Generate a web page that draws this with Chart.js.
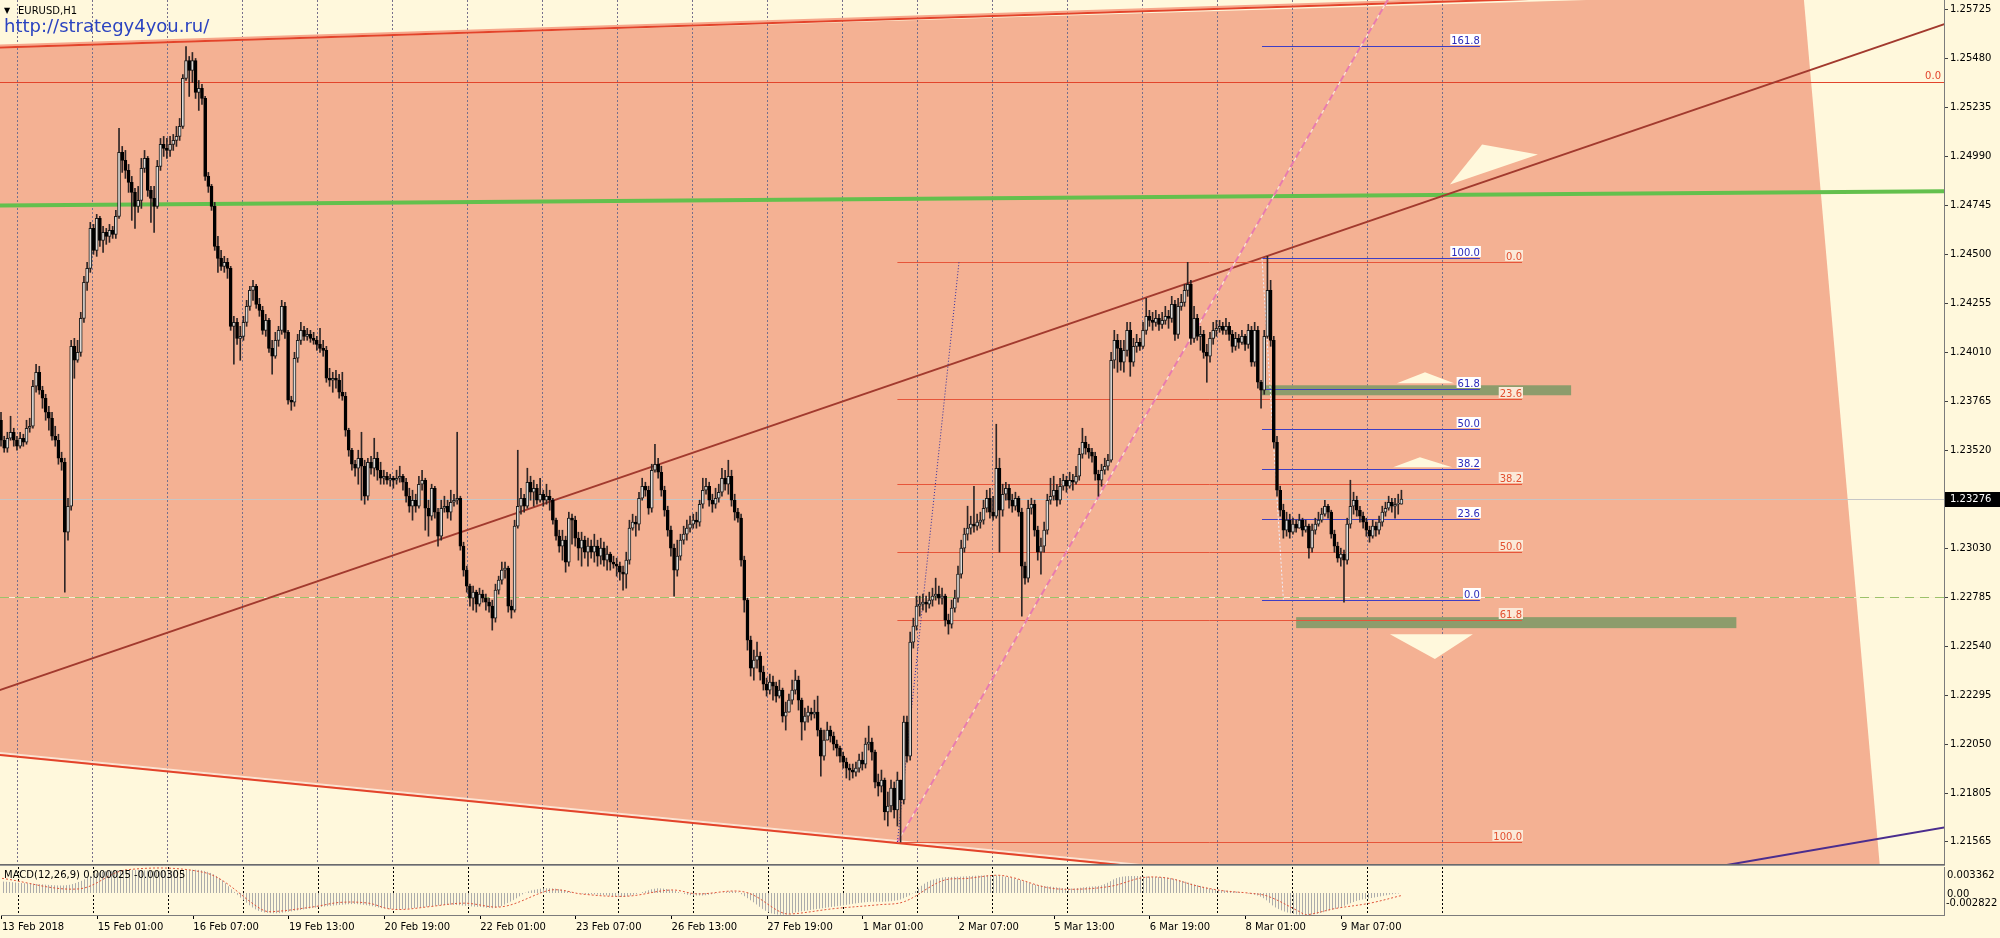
<!DOCTYPE html>
<html><head><meta charset="utf-8"><title>EURUSD,H1</title>
<script src="https://cdn.jsdelivr.net/npm/chart.js@4.4.1/dist/chart.umd.min.js"></script>
<style>
html,body{margin:0;padding:0;background:#FFF8DC;overflow:hidden;width:2000px;height:938px}
#wrap{position:relative;width:2000px;height:938px;background:#FFF8DC}
canvas{position:absolute;left:0;display:block}
#c1{top:0}#c2{top:866px}
</style></head><body>
<div id="wrap"><canvas id="c1" width="2000" height="866"></canvas><canvas id="c2" width="2000" height="72"></canvas></div>
<script>
// ---------------- DATA (EURUSD H1, bar index 0 = first visible candle) ----------------
const symbolTitle = "EURUSD,H1";
const siteUrl = "http://strategy4you.ru/";
const firstOpen = 1.2367;
const closes = [1.2357,1.2353,1.2358,1.2361,1.2357,1.2354,1.2358,1.2356,1.2363,1.2364,
1.2384,1.2391,1.2382,1.2378,1.2371,1.2368,1.2359,1.2357,1.2348,1.2346,
1.2311,1.2324,1.2404,1.2397,1.2401,1.2418,1.2436,1.2443,1.2463,1.2452,
1.2468,1.2457,1.2461,1.2459,1.2462,1.2460,1.2469,1.2501,1.2497,1.2492,
1.2486,1.2481,1.2474,1.2477,1.2493,1.2498,1.2482,1.2478,1.2474,1.2494,
1.2505,1.2503,1.2502,1.2505,1.2507,1.2509,1.2514,1.2538,1.2547,1.2542,
1.2547,1.2531,1.2533,1.2528,1.2489,1.2484,1.2474,1.2454,1.2448,1.2444,
1.2446,1.2443,1.2414,1.2416,1.2408,1.2409,1.2416,1.2424,1.2432,1.2434,
1.2425,1.2422,1.2412,1.2417,1.2403,1.2399,1.2407,1.2412,1.2424,1.2411,
1.2377,1.2376,1.2398,1.2407,1.2412,1.2409,1.2410,1.2408,1.2407,1.2405,
1.2403,1.2402,1.2388,1.2387,1.2388,1.2387,1.2381,1.2379,1.2362,1.2352,
1.2345,1.2343,1.2348,1.2344,1.2329,1.2346,1.2343,1.2348,1.2342,1.2338,
1.2339,1.2337,1.2338,1.2337,1.2338,1.2339,1.2336,1.2329,1.2324,1.2327,
1.2324,1.2335,1.2337,1.2323,1.2319,1.2333,1.2321,1.2309,1.2323,1.2324,
1.2321,1.2326,1.2327,1.2328,1.2304,1.2292,1.2284,1.2278,1.2281,1.2275,
1.2280,1.2278,1.2276,1.2274,1.2268,1.2282,1.2287,1.2292,1.2293,1.2274,
1.2272,1.2314,1.2324,1.2328,1.2324,1.2336,1.2331,1.2333,1.2327,1.2330,
1.2327,1.2329,1.2327,1.2317,1.2309,1.2304,1.2307,1.2296,1.2318,1.2317,
1.2308,1.2303,1.2307,1.2301,1.2304,1.2301,1.2304,1.2299,1.2303,1.2297,
1.2300,1.2296,1.2295,1.2294,1.2291,1.2290,1.2297,1.2313,1.2316,1.2315,
1.2328,1.2334,1.2332,1.2323,1.2342,1.2345,1.2341,1.2332,1.2322,1.2312,
1.2303,1.2292,1.2299,1.2307,1.2310,1.2313,1.2315,1.2317,1.2316,1.2325,
1.2332,1.2334,1.2327,1.2325,1.2328,1.2331,1.2338,1.2335,1.2339,1.2327,
1.2321,1.2318,1.2297,1.2277,1.2257,1.2243,1.2247,1.2249,1.2241,1.2235,
1.2232,1.2236,1.2234,1.2229,1.2232,1.2219,1.2221,1.2227,1.2232,1.2237,
1.2227,1.2216,1.2219,1.2221,1.2220,1.2221,1.2212,1.2199,1.2207,1.2212,
1.2209,1.2205,1.2203,1.2199,1.2196,1.2193,1.2192,1.2191,1.2193,1.2197,
1.2195,1.2205,1.2206,1.2201,1.2186,1.2184,1.2187,1.2171,1.2174,1.2183,
1.2172,1.2187,1.2177,1.2216,1.2199,1.2256,1.2264,1.2274,1.2275,1.2276,
1.2275,1.2277,1.2279,1.2280,1.2278,1.2279,1.2267,1.2265,1.2273,1.2278,
1.2290,1.2303,1.2310,1.2313,1.2315,1.2314,1.2316,1.2317,1.2323,1.2328,
1.2321,1.2319,1.2343,1.2322,1.2330,1.2333,1.2327,1.2324,1.2328,1.2321,
1.2294,1.2288,1.2323,1.2325,1.2312,1.2301,1.2304,1.2312,1.2327,1.2329,
1.2332,1.2327,1.2334,1.2337,1.2334,1.2337,1.2336,1.2339,1.2350,1.2356,
1.2353,1.2351,1.2349,1.2340,1.2337,1.2342,1.2344,1.2347,1.2397,1.2407,
1.2403,1.2396,1.2402,1.2412,1.2396,1.2404,1.2406,1.2404,1.2412,1.2419,
1.2417,1.2416,1.2418,1.2415,1.2417,1.2419,1.2418,1.2425,1.2410,1.2424,
1.2426,1.2432,1.2435,1.2408,1.2418,1.2409,1.2410,1.2401,1.2399,1.2408,
1.2412,1.2413,1.2414,1.2412,1.2414,1.2410,1.2404,1.2408,1.2406,1.2409,
1.2405,1.2412,1.2396,1.2412,1.2386,1.2382,1.2409,1.2432,1.2407,1.2356,
1.2332,1.2322,1.2312,1.2317,1.2311,1.2315,1.2313,1.2317,1.2312,1.2314,
1.2303,1.2312,1.2315,1.2317,1.2320,1.2324,1.2321,1.2310,1.2304,1.2298,
1.2300,1.2297,1.2315,1.2324,1.2327,1.2322,1.2319,1.2316,1.2312,1.2309,
1.2314,1.2312,1.2316,1.2321,1.2323,1.2326,1.2324,1.2325,1.2325,1.23276];
const highs = [1.2371,1.2359,1.2361,1.2369,1.2363,1.2359,1.2361,1.2360,1.2367,1.2368,
1.2387,1.2395,1.2394,1.2384,1.2380,1.2374,1.2371,1.2364,1.2360,1.2351,
1.2348,1.2328,1.2407,1.2408,1.2407,1.2421,1.2439,1.2446,1.2466,1.2465,
1.2470,1.2469,1.2464,1.2463,1.2465,1.2464,1.2472,1.2513,1.2504,1.2502,
1.2495,1.2489,1.2483,1.2484,1.2498,1.2502,1.2499,1.2484,1.2484,1.2497,
1.2508,1.2509,1.2508,1.2509,1.2510,1.2514,1.2518,1.2540,1.2554,1.2549,
1.2551,1.2548,1.2537,1.2535,1.2529,1.2491,1.2485,1.2476,1.2459,1.2452,
1.2449,1.2448,1.2444,1.2419,1.2418,1.2414,1.2419,1.2427,1.2434,1.2437,
1.2435,1.2428,1.2424,1.2420,1.2418,1.2407,1.2411,1.2414,1.2427,1.2426,
1.2412,1.2379,1.2401,1.2410,1.2416,1.2414,1.2413,1.2412,1.2411,1.2409,
1.2413,1.2407,1.2404,1.2393,1.2391,1.2392,1.2390,1.2391,1.2381,1.2363,
1.2353,1.2347,1.2352,1.2361,1.2347,1.2348,1.2349,1.2358,1.2351,1.2346,
1.2342,1.2341,1.2340,1.2339,1.2342,1.2344,1.2340,1.2338,1.2333,1.2332,
1.2330,1.2339,1.2342,1.2338,1.2327,1.2335,1.2334,1.2323,1.2327,1.2329,
1.2327,1.2332,1.2330,1.2361,1.2329,1.2306,1.2294,1.2285,1.2284,1.2282,
1.2283,1.2282,1.2280,1.2278,1.2277,1.2285,1.2289,1.2296,1.2296,1.2294,
1.2277,1.2317,1.2352,1.2333,1.2330,1.2343,1.2339,1.2337,1.2335,1.2338,
1.2332,1.2335,1.2332,1.2328,1.2318,1.2312,1.2312,1.2309,1.2321,1.2320,
1.2319,1.2311,1.2311,1.2309,1.2308,1.2307,1.2310,1.2307,1.2308,1.2306,
1.2304,1.2301,1.2299,1.2298,1.2296,1.2294,1.2301,1.2317,1.2320,1.2319,
1.2331,1.2338,1.2336,1.2334,1.2345,1.2355,1.2348,1.2344,1.2334,1.2324,
1.2314,1.2305,1.2307,1.2310,1.2314,1.2317,1.2319,1.2320,1.2321,1.2327,
1.2338,1.2338,1.2336,1.2330,1.2333,1.2335,1.2343,1.2342,1.2347,1.2342,
1.2330,1.2323,1.2320,1.2299,1.2278,1.2259,1.2252,1.2256,1.2251,1.2244,
1.2238,1.2240,1.2239,1.2236,1.2237,1.2233,1.2226,1.2230,1.2237,1.2242,
1.2239,1.2228,1.2223,1.2224,1.2223,1.2227,1.2229,1.2213,1.2212,1.2216,
1.2214,1.2211,1.2207,1.2204,1.2201,1.2198,1.2195,1.2195,1.2196,1.2200,
1.2201,1.2208,1.2214,1.2208,1.2202,1.2190,1.2192,1.2188,1.2181,1.2187,
1.2186,1.2191,1.2182,1.2219,1.2219,1.2261,1.2268,1.2279,1.2279,1.2280,
1.2279,1.2281,1.2283,1.2288,1.2284,1.2283,1.2280,1.2270,1.2277,1.2282,
1.2294,1.2307,1.2313,1.2324,1.2319,1.2334,1.2320,1.2321,1.2327,1.2332,
1.2333,1.2329,1.2365,1.2348,1.2335,1.2336,1.2335,1.2330,1.2331,1.2329,
1.2323,1.2296,1.2327,1.2328,1.2327,1.2314,1.2308,1.2316,1.2330,1.2338,
1.2339,1.2335,1.2338,1.2340,1.2339,1.2341,1.2340,1.2344,1.2353,1.2363,
1.2359,1.2355,1.2353,1.2351,1.2342,1.2345,1.2348,1.2350,1.2401,1.2412,
1.2410,1.2407,1.2407,1.2416,1.2416,1.2408,1.2410,1.2408,1.2416,1.2428,
1.2422,1.2421,1.2422,1.2420,1.2421,1.2424,1.2422,1.2429,1.2427,1.2428,
1.2430,1.2435,1.2446,1.2437,1.2424,1.2420,1.2414,1.2412,1.2405,1.2411,
1.2416,1.2417,1.2417,1.2416,1.2418,1.2416,1.2412,1.2411,1.2410,1.2412,
1.2410,1.2415,1.2414,1.2416,1.2414,1.2387,1.2412,1.2449,1.2437,1.2409,
1.2359,1.2334,1.2325,1.2321,1.2320,1.2318,1.2317,1.2320,1.2318,1.2317,
1.2315,1.2315,1.2318,1.2321,1.2323,1.2327,1.2325,1.2322,1.2312,1.2306,
1.2303,1.2302,1.2318,1.2337,1.2331,1.2329,1.2324,1.2321,1.2318,1.2314,
1.2317,1.2316,1.2319,1.2324,1.2326,1.2329,1.2328,1.2328,1.2330,1.2332];
const lows = [1.2354,1.2351,1.2351,1.2357,1.2354,1.2352,1.2353,1.2354,1.2355,1.2361,
1.2363,1.2381,1.2380,1.2373,1.2367,1.2362,1.2357,1.2354,1.2345,1.2342,
1.2281,1.2307,1.2322,1.2388,1.2396,1.2399,1.2416,1.2432,1.2441,1.2450,
1.2449,1.2454,1.2451,1.2455,1.2456,1.2458,1.2458,1.2468,1.2491,1.2488,
1.2481,1.2467,1.2463,1.2471,1.2473,1.2491,1.2479,1.2466,1.2461,1.2473,
1.2492,1.2499,1.2498,1.2499,1.2502,1.2504,1.2507,1.2513,1.2537,1.2529,
1.2536,1.2528,1.2522,1.2525,1.2487,1.2481,1.2472,1.2452,1.2441,1.2442,
1.2441,1.2438,1.2412,1.2395,1.2405,1.2397,1.2407,1.2414,1.2422,1.2427,
1.2423,1.2419,1.2410,1.2409,1.2401,1.2390,1.2398,1.2404,1.2410,1.2408,
1.2375,1.2372,1.2374,1.2396,1.2405,1.2407,1.2407,1.2406,1.2405,1.2402,
1.2401,1.2399,1.2386,1.2384,1.2381,1.2383,1.2378,1.2377,1.2359,1.2349,
1.2342,1.2339,1.2335,1.2327,1.2325,1.2327,1.2340,1.2339,1.2337,1.2335,
1.2335,1.2335,1.2334,1.2333,1.2335,1.2336,1.2332,1.2326,1.2321,1.2317,
1.2321,1.2323,1.2332,1.2312,1.2309,1.2317,1.2318,1.2304,1.2307,1.2321,
1.2318,1.2317,1.2324,1.2325,1.2302,1.2289,1.2281,1.2274,1.2272,1.2271,
1.2274,1.2276,1.2272,1.2271,1.2262,1.2266,1.2280,1.2285,1.2288,1.2271,
1.2268,1.2271,1.2313,1.2320,1.2321,1.2323,1.2327,1.2324,1.2325,1.2326,
1.2324,1.2325,1.2322,1.2315,1.2307,1.2301,1.2297,1.2291,1.2294,1.2305,
1.2304,1.2297,1.2294,1.2298,1.2294,1.2298,1.2296,1.2294,1.2295,1.2294,
1.2292,1.2292,1.2293,1.2289,1.2287,1.2282,1.2283,1.2295,1.2312,1.2309,
1.2312,1.2327,1.2329,1.2320,1.2321,1.2341,1.2338,1.2329,1.2319,1.2309,
1.2299,1.2279,1.2289,1.2297,1.2305,1.2307,1.2311,1.2313,1.2313,1.2314,
1.2323,1.2330,1.2324,1.2321,1.2323,1.2326,1.2329,1.2332,1.2330,1.2324,
1.2317,1.2316,1.2294,1.2271,1.2252,1.2239,1.2237,1.2243,1.2237,1.2232,
1.2229,1.2230,1.2227,1.2226,1.2228,1.2216,1.2212,1.2221,1.2225,1.2230,
1.2222,1.2207,1.2212,1.2216,1.2217,1.2218,1.2209,1.2189,1.2197,1.2207,
1.2206,1.2202,1.2199,1.2196,1.2193,1.2188,1.2187,1.2188,1.2189,1.2191,
1.2192,1.2193,1.2202,1.2197,1.2183,1.2179,1.2181,1.2167,1.2164,1.2171,
1.2168,1.2164,1.2156,1.2175,1.2196,1.2197,1.2253,1.2262,1.2269,1.2272,
1.2271,1.2273,1.2274,1.2277,1.2275,1.2275,1.2264,1.2260,1.2263,1.2271,
1.2276,1.2288,1.2301,1.2307,1.2310,1.2311,1.2312,1.2313,1.2315,1.2321,
1.2318,1.2317,1.2318,1.2301,1.2319,1.2327,1.2323,1.2321,1.2322,1.2319,
1.2269,1.2285,1.2286,1.2320,1.2309,1.2297,1.2290,1.2301,1.2310,1.2325,
1.2327,1.2324,1.2325,1.2332,1.2331,1.2333,1.2332,1.2335,1.2337,1.2348,
1.2350,1.2348,1.2346,1.2337,1.2329,1.2334,1.2340,1.2342,1.2346,1.2393,
1.2391,1.2392,1.2391,1.2399,1.2389,1.2394,1.2401,1.2402,1.2403,1.2410,
1.2414,1.2412,1.2414,1.2412,1.2413,1.2415,1.2413,1.2416,1.2407,1.2408,
1.2422,1.2424,1.2429,1.2405,1.2406,1.2407,1.2402,1.2398,1.2386,1.2396,
1.2405,1.2409,1.2411,1.2410,1.2410,1.2407,1.2401,1.2402,1.2403,1.2405,
1.2402,1.2403,1.2394,1.2394,1.2383,1.2373,1.2380,1.2408,1.2404,1.2353,
1.2329,1.2319,1.2308,1.2309,1.2308,1.2310,1.2311,1.2313,1.2309,1.2311,
1.2298,1.2301,1.2310,1.2314,1.2316,1.2319,1.2318,1.2308,1.2301,1.2296,
1.2294,1.2276,1.2295,1.2313,1.2320,1.2319,1.2316,1.2313,1.2309,1.2306,
1.2308,1.2309,1.2310,1.2314,1.2319,1.2322,1.2321,1.2318,1.2320,1.2325];

// Time axis labels (bar index -> label)
const xTickBars = [0,30,60,90,120,150,180,210,240,270,300,330,360,390,420];
const xTickLabels = ["13 Feb 2018","15 Feb 01:00","16 Feb 07:00","19 Feb 13:00","20 Feb 19:00","22 Feb 01:00","23 Feb 07:00","26 Feb 13:00","27 Feb 19:00","1 Mar 01:00","2 Mar 07:00","5 Mar 13:00","6 Mar 19:00","8 Mar 01:00","9 Mar 07:00"];
// Price axis labels
const yTickValues = [1.25725,1.25480,1.25235,1.24990,1.24745,1.24500,1.24255,1.24010,1.23765,1.23520,1.23030,1.22785,1.22540,1.22295,1.22050,1.21805,1.21565];
const yTickLabels = ["1.25725","1.25480","1.25235","1.24990","1.24745","1.24500","1.24255","1.24010","1.23765","1.23520","1.23030","1.22785","1.22540","1.22295","1.22050","1.21805","1.21565"];
const currentPrice = 1.23276;

// MACD(12,26,9)
const macdMainBars = [0,10,20,25,30,40,50,60,64,68,72,76,80,85,90,100,110,115,120,125,130,140,150,155,160,165,170,175,180,190,195,200,205,210,215,220,225,230,235,240,245,250,260,270,280,285,290,295,300,310,315,320,325,330,335,340,345,350,355,360,365,370,375,380,385,390,395,400,405,410,415,420,425,430,435,439];
const macdMain = [0.0015,0.0012,0.0010,0.0016,0.0026,0.0030,0.0028,0.0030,0.0028,0.0020,0.0005,-0.0010,-0.0022,-0.0026,-0.0024,-0.0018,-0.0014,-0.0016,-0.0020,-0.0021,-0.0019,-0.0015,-0.0018,-0.0019,-0.0010,0.0002,0.0006,0.0005,0.0000,-0.0003,-0.0005,0.0000,0.0006,0.0004,-0.0002,-0.0003,0.0000,0.0002,-0.0010,-0.0024,-0.0028,-0.0024,-0.0018,-0.0012,-0.0010,-0.0002,0.0014,0.0020,0.0021,0.0023,0.0021,0.0016,0.0010,0.0008,0.0006,0.0008,0.0010,0.0020,0.0022,0.0021,0.0020,0.0016,0.0010,0.0005,0.0003,0.0000,-0.0005,-0.0020,-0.0027,-0.0028,-0.0024,-0.0018,-0.0010,-0.0006,-0.0002,0.000025];
const macdSignalBars = [0,24,39,64,81,84,98,106,115,121,126,134,145,157,171,175,182,196,210,218,233,244,247,261,275,283,295,303,312,317,328,337,348,358,366,375,383,391,397,407,409,418,429,439];
const macdSignal = [0.0019,0.00054,0.0030,0.0026,-0.0020,-0.0024,-0.00175,-0.0012,-0.0013,-0.0020,-0.0021,-0.00175,-0.0013,-0.00175,0.0003,0.0004,-0.00013,-0.0004,0.0004,-0.0001,0.00013,-0.0024,-0.0027,-0.0020,-0.0015,-0.0011,0.0016,0.0019,0.0023,0.0020,0.0007,0.0005,0.0009,0.0020,0.0019,0.0009,0.0003,0.0000,-0.0004,-0.0024,-0.0028,-0.0020,-0.0013,-0.000305];
const macdMax = 0.003362, macdMin = -0.002822;
const macdTitle = "MACD(12,26,9) 0.000025 -0.000305";

// Drawn objects, anchors as [bar index, price]
const zonePolygon = [[-63,1.25505],[565,1.25805],[591,1.2107],[-63,1.22095]];
const channelUpper = [[0,1.25535],[480,1.25778]];
const channelLower = [[0,1.21995],[351,1.21445]];
const trendBrown = [[0,1.22322],[608,1.25645]];
const trendGreen = [[0,1.24745],[608,1.24815]];
const trendPurple = [[541,1.21445],[608,1.2163]];
const rayPink = [[281,1.2156],[435,1.2578]];
const fibRedTrend = [[281,1.2156],[300.3,1.2446]];
const fibBlueTrend = [[395.3,1.2448],[402,1.2277]];
const redZeroPrice = 1.2536;
const greenDashedPrice = 1.22785;
const fibRedSpan = [281, 476.8];
const fibRedLevels = ["0.0","23.6","38.2","50.0","61.8","100.0"];
const fibRedPrices = [1.2446,1.23775,1.2335,1.2301,1.2267,1.2156];
const fibBlueSpan = [395.3, 463.6];
const fibBlueLevels = ["161.8","100.0","61.8","50.0","38.2","23.6","0.0"];
const fibBluePrices = [1.2554,1.2448,1.23825,1.23625,1.23425,1.23175,1.2277];
const oliveZones = [[395.3,492.2,1.23845,1.23795],[406,544,1.22685,1.2263]];
const arrowTriangles = [
  [[454.2,1.2485],[464.3,1.2505],[481.8,1.2500]],
  [[437.6,1.23855],[446.4,1.2391],[455.5,1.23855]],
  [[436.4,1.23435],[444.8,1.23485],[454.9,1.23435]],
  [[435.4,1.2260],[461.4,1.2260],[449.5,1.22475]]
];
const gridFirstBar = 5.016, gridStepBars = 23.51, gridCount = 20;

// ---------------- SCALE RANGES ----------------
const xMin = -0.3135, xMax = 609.09;
const yMin = 1.21445, yMax = 1.257725;
const FONT = '"DejaVu Sans", "Liberation Sans", sans-serif';

// ---------------- BUILD ----------------
const n = Math.min(closes.length, highs.length, lows.length);
const opens = [], bodies = [], wicks = [], bodyFill = [], bodyBorder = [];
for (let i = 0; i < n; i++) {
  const o = i === 0 ? firstOpen : closes[i - 1];
  const c = closes[i];
  opens.push(o);
  const hi = Math.max(highs[i], o, c), lo = Math.min(lows[i], o, c);
  bodies.push({x: i, y: [o, c]});
  wicks.push({x: i, y: [lo, hi]});
  const up = c >= o;
  bodyFill.push(up ? '#dedad6' : '#000000');
  bodyBorder.push(up ? '#1e1e1e' : '#000000');
}

function seg(ctx, a, b) { ctx.beginPath(); ctx.moveTo(a[0], a[1]); ctx.lineTo(b[0], b[1]); ctx.stroke(); }
function extend(a, b, back, fwd) {
  const dx = b[0] - a[0], dy = b[1] - a[1], L = Math.hypot(dx, dy) || 1;
  return [[a[0] - dx / L * back, a[1] - dy / L * back], [b[0] + dx / L * fwd, b[1] + dy / L * fwd]];
}

const mainPlugin = {
  id: 'mt4Main',
  beforeDatasetsDraw(chart) {
    const {ctx, chartArea: a, scales: {x, y}} = chart;
    const P = ([b, p]) => [x.getPixelForValue(b), y.getPixelForValue(p)];
    ctx.save();
    ctx.beginPath(); ctx.rect(a.left, a.top, a.right - a.left, a.bottom - a.top); ctx.clip();
    // background zone
    ctx.beginPath();
    zonePolygon.map(P).forEach(([X, Y], i) => i ? ctx.lineTo(X, Y) : ctx.moveTo(X, Y));
    ctx.closePath(); ctx.fillStyle = '#F4B193'; ctx.fill();
    // vertical dotted grid
    ctx.lineWidth = 1; ctx.strokeStyle = '#76708c'; ctx.setLineDash([2, 2]);
    for (let k = 0; k < gridCount; k++) {
      const X = Math.round(x.getPixelForValue(gridFirstBar + k * gridStepBars)) + 0.5;
      seg(ctx, [X, a.top], [X, a.bottom]);
    }
    ctx.setLineDash([]);
    // olive zones
    ctx.fillStyle = '#8d9c6c';
    oliveZones.forEach(([b1, b2, p1, p2]) => {
      const X1 = x.getPixelForValue(b1), X2 = x.getPixelForValue(b2), Y1 = y.getPixelForValue(p1), Y2 = y.getPixelForValue(p2);
      ctx.fillRect(X1, Y1, X2 - X1, Y2 - Y1);
    });
    // horizontal lines
    const hl = (p, color, w, dash) => {
      const Y = Math.round(y.getPixelForValue(p)) + 0.5;
      ctx.strokeStyle = color; ctx.lineWidth = w; ctx.setLineDash(dash || []);
      seg(ctx, [a.left, Y], [a.right, Y]); ctx.setLineDash([]);
    };
    hl(currentPrice, '#c6c6c6', 1);
    hl(redZeroPrice, '#e2452c', 1);
    hl(greenDashedPrice, '#fbf0d6', 1);
    hl(greenDashedPrice, '#9cc26a', 1, [9, 6]);
    // cream triangles
    ctx.fillStyle = '#FFF8DC';
    arrowTriangles.forEach(t => {
      ctx.beginPath(); t.map(P).forEach(([X, Y], i) => i ? ctx.lineTo(X, Y) : ctx.moveTo(X, Y)); ctx.closePath(); ctx.fill();
    });
    // channel lines
    let e = extend(P(channelUpper[0]), P(channelUpper[1]), 4000, 4000);
    ctx.lineWidth = 2; ctx.strokeStyle = '#f7a78b'; seg(ctx, [e[0][0], e[0][1] - 2], [e[1][0], e[1][1] - 2]);
    ctx.strokeStyle = '#e3432a'; seg(ctx, e[0], e[1]);
    e = extend(P(channelLower[0]), P(channelLower[1]), 4000, 4000);
    ctx.strokeStyle = '#fbe3d2'; seg(ctx, [e[0][0], e[0][1] - 2], [e[1][0], e[1][1] - 2]);
    ctx.strokeStyle = '#e3432a'; seg(ctx, e[0], e[1]);
    // green support
    e = extend(P(trendGreen[0]), P(trendGreen[1]), 4000, 4000);
    ctx.lineWidth = 4; ctx.strokeStyle = '#63c04d'; seg(ctx, e[0], e[1]);
    // brown trend
    e = extend(P(trendBrown[0]), P(trendBrown[1]), 4000, 4000);
    ctx.lineWidth = 2; ctx.strokeStyle = '#a23a2e'; seg(ctx, e[0], e[1]);
    // purple
    e = extend(P(trendPurple[0]), P(trendPurple[1]), 4000, 4000);
    ctx.lineWidth = 2; ctx.strokeStyle = '#4a2d8e'; seg(ctx, e[0], e[1]);
    // fib red
    ctx.lineWidth = 1; ctx.strokeStyle = '#e6553a';
    fibRedPrices.forEach(p => { const Y = Math.round(y.getPixelForValue(p)) + 0.5; seg(ctx, [x.getPixelForValue(fibRedSpan[0]), Y], [x.getPixelForValue(fibRedSpan[1]), Y]); });
    // fib blue
    ctx.strokeStyle = '#3e3ec4';
    fibBluePrices.forEach(p => { const Y = Math.round(y.getPixelForValue(p)) + 0.5; seg(ctx, [x.getPixelForValue(fibBlueSpan[0]), Y], [x.getPixelForValue(fibBlueSpan[1]), Y]); });
    // pink ray
    e = extend(P(rayPink[0]), P(rayPink[1]), 0, 4000);
    ctx.lineWidth = 1.2; ctx.strokeStyle = '#fbe4dc'; seg(ctx, e[0], e[1]);
    ctx.lineWidth = 2; ctx.strokeStyle = '#e87cac'; ctx.setLineDash([7, 4]); seg(ctx, e[0], e[1]);
    // fib trend dotted lines
    ctx.lineWidth = 1; ctx.strokeStyle = '#2c2ca0'; ctx.setLineDash([1, 2]); seg(ctx, P(fibRedTrend[0]), P(fibRedTrend[1]));
    ctx.strokeStyle = '#eeeefc'; ctx.setLineDash([2, 2]); seg(ctx, P(fibBlueTrend[0]), P(fibBlueTrend[1]));
    ctx.setLineDash([]);
    ctx.restore();
  },
  afterDatasetsDraw(chart) {
    const {ctx, scales: {x, y}} = chart;
    ctx.save();
    ctx.font = '10px ' + FONT; ctx.textBaseline = 'alphabetic'; ctx.textAlign = 'right';
    const label = (txt, X, Y, fg, bg) => {
      const w = ctx.measureText(txt).width;
      if (bg) { ctx.fillStyle = bg; ctx.fillRect(X - w - 1, Y - 10, w + 2, 11); }
      ctx.fillStyle = fg; ctx.fillText(txt, X, Y);
    };
    fibRedLevels.forEach((t, i) => label(t, x.getPixelForValue(fibRedSpan[1]), Math.round(y.getPixelForValue(fibRedPrices[i])) - 2, '#e2502f', '#fbe9d8'));
    fibBlueLevels.forEach((t, i) => label(t, x.getPixelForValue(fibBlueSpan[1]), Math.round(y.getPixelForValue(fibBluePrices[i])) - 2, '#2b2bb8', '#ffffff'));
    label('0.0', chart.chartArea.right - 3, Math.round(y.getPixelForValue(redZeroPrice)) - 3, '#e2452c', null);
    ctx.restore();
  },
  afterDraw(chart) {
    const {ctx, chartArea: a, scales: {y}} = chart;
    ctx.save();
    // window separator
    ctx.fillStyle = '#6a6a6a'; ctx.fillRect(0, a.bottom - 1, a.right + 1, 1);
    ctx.fillStyle = '#9a9a9a'; ctx.fillRect(0, a.bottom, a.right + 1, 1);
    // price labels
    ctx.font = '10px ' + FONT; ctx.textAlign = 'left'; ctx.textBaseline = 'middle'; ctx.fillStyle = '#000';
    yTickValues.forEach((v, i) => ctx.fillText(yTickLabels[i], a.right + 6, Math.round(y.getPixelForValue(v)) + 0.5));
    // current price tag
    const Yc = Math.round(y.getPixelForValue(currentPrice));
    ctx.fillStyle = '#000'; ctx.fillRect(a.right + 1, Yc - 7, 56, 15);
    ctx.fillStyle = '#fff'; ctx.fillText(currentPrice.toFixed(5), a.right + 6, Yc + 0.5);
    // header texts
    ctx.fillStyle = '#000'; ctx.font = '8px ' + FONT; ctx.fillText('\u25BC', 4, 11);
    ctx.font = '10px ' + FONT; ctx.fillText(symbolTitle, 18, 11);
    ctx.font = '18px ' + FONT; ctx.textBaseline = 'alphabetic'; ctx.fillStyle = '#2b43c0';
    ctx.fillText(siteUrl, 4, 32);
    ctx.restore();
  }
};

const ctx1 = document.getElementById('c1');
new Chart(ctx1, {
  type: 'bar',
  data: {datasets: [
    {label: 'Candles', data: bodies, backgroundColor: bodyFill, borderColor: bodyBorder, borderWidth: 1, borderSkipped: false,
     barThickness: 3, minBarLength: 1, grouped: false, order: 0},
    {label: 'Shadows', data: wicks, backgroundColor: '#2e2626', borderWidth: 0, barThickness: 1, grouped: false, order: 1}
  ]},
  options: {
    responsive: false, animation: false, events: [],
    layout: {padding: {left: 0, right: 0, top: 0, bottom: 1}},
    plugins: {legend: {display: false}, tooltip: {enabled: false}},
    scales: {
      x: {type: 'linear', min: xMin, max: xMax, offset: false, display: false},
      y: {type: 'linear', position: 'right', min: yMin, max: yMax,
          afterFit(s) { s.width = 56; },
          afterBuildTicks(s) { s.ticks = yTickValues.concat([currentPrice]).map(v => ({value: v})); },
          ticks: {display: false},
          grid: {drawOnChartArea: false, drawTicks: true, tickLength: 4, color: '#404040'},
          border: {display: true, color: '#7c7c7c', width: 1}}
    }
  },
  plugins: [mainPlugin]
});

// ---------------- MACD ----------------
const ctx2el = document.getElementById('c2');
const pcan = document.createElement('canvas'); pcan.width = 3; pcan.height = 1;
const pctx = pcan.getContext('2d'); pctx.fillStyle = '#acacac'; pctx.fillRect(0, 0, 1, 1);
const hatch = ctx2el.getContext('2d').createPattern(pcan, 'repeat');

const macdPlugin = {
  id: 'mt4Macd',
  beforeDatasetsDraw(chart) {
    const {ctx, chartArea: a, scales: {x}} = chart;
    ctx.save();
    ctx.lineWidth = 1; ctx.strokeStyle = '#000'; ctx.setLineDash([2, 2]);
    for (let k = 0; k < gridCount; k++) {
      const X = Math.round(x.getPixelForValue(gridFirstBar + k * gridStepBars)) + 0.5;
      seg(ctx, [X, a.top], [X, a.bottom]);
    }
    ctx.restore();
  },
  afterDraw(chart) {
    const {ctx, chartArea: a, scales: {y}} = chart;
    ctx.save();
    ctx.font = '10px ' + FONT; ctx.fillStyle = '#000'; ctx.textBaseline = 'middle'; ctx.textAlign = 'left';
    ctx.fillText(macdTitle, 4, a.top + 8);
    ctx.fillText(macdMax.toFixed(6), a.right + 3, y.getPixelForValue(macdMax) + 8);
    ctx.fillText('0.00', a.right + 3, y.getPixelForValue(0) + 1);
    ctx.fillText(macdMin.toFixed(6), a.right + 2, y.getPixelForValue(macdMin) - 12);
    ctx.restore();
  }
};

new Chart(ctx2el, {
  type: 'line',
  data: {datasets: [
    {label: 'Signal', data: macdSignalBars.map((b, i) => ({x: b, y: macdSignal[i]})), borderColor: '#e0553a', borderWidth: 1,
     borderDash: [2, 2], pointRadius: 0, fill: false, tension: 0.35, order: 0},
    {label: 'MACD', data: macdMainBars.map((b, i) => ({x: b, y: macdMain[i]})), borderWidth: 0, borderColor: 'rgba(0,0,0,0)',
     backgroundColor: hatch, fill: 'origin', pointRadius: 0, tension: 0.35, order: 1}
  ]},
  options: {
    responsive: false, animation: false, events: [],
    layout: {padding: {left: 0, right: 0, top: 1, bottom: 0}},
    plugins: {legend: {display: false}, tooltip: {enabled: false}},
    scales: {
      x: {type: 'linear', min: xMin, max: xMax, offset: false,
          afterFit(s) { s.height = 23; },
          afterBuildTicks(s) { s.ticks = xTickBars.map(v => ({value: v})); },
          ticks: {align: 'start', autoSkip: false, maxRotation: 0, minRotation: 0, padding: 2, color: '#000',
                  font: {family: FONT, size: 10}, callback: (v, i) => xTickLabels[i]},
          grid: {drawOnChartArea: false, drawTicks: true, tickLength: 4, color: '#000'},
          border: {display: true, color: '#7c7c7c', width: 1}},
      y: {type: 'linear', position: 'right', min: macdMin, max: macdMax,
          afterFit(s) { s.width = 56; },
          ticks: {display: false}, grid: {display: false},
          border: {display: true, color: '#7c7c7c', width: 1}}
    }
  },
  plugins: [macdPlugin]
});
</script>
</body></html>
